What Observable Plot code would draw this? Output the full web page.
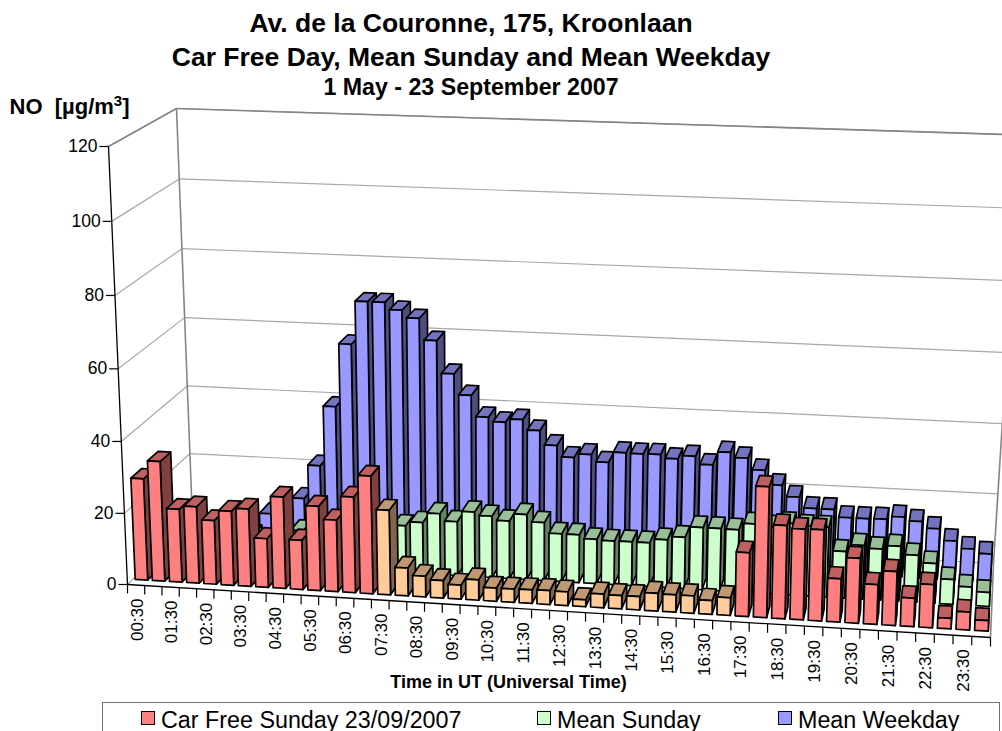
<!DOCTYPE html>
<html>
<head>
<meta charset="utf-8">
<script src="https://cdn.jsdelivr.net/npm/d3@7"></script>
<script src="https://cdn.jsdelivr.net/npm/@observablehq/plot@0.6"></script>
<style>
html,body{margin:0;padding:0;background:#fff;overflow:hidden;width:1002px;height:731px;font-family:"Liberation Sans",Arial,sans-serif;color:#000}
#title{width:942px;height:90px;text-align:center;font-weight:bold;position:relative;z-index:2;pointer-events:none}
#title div{position:absolute;left:0;width:942px;white-space:nowrap}
#chart{height:612px;position:relative;z-index:1}
#chart svg{display:block;background:transparent}
#legend{position:absolute;left:102px;top:702px;width:896px;height:40px;border:1px solid #707070;box-sizing:content-box;z-index:3;background:#fff}
#legend .item{position:absolute;top:4px;height:26px;line-height:26px;font-size:23.3px;white-space:nowrap}
#legend .sw{position:absolute;width:12px;height:12px;border:1.5px solid #000}
</style>
</head>
<body>
<div id="title">
<div style="top:6px;font-size:26.5px;line-height:34px">Av. de la Couronne, 175, Kroonlaan</div>
<div style="top:40px;font-size:26.5px;line-height:34px">Car Free Day, Mean Sunday and Mean Weekday</div>
<div style="top:73px;font-size:23.2px;line-height:28px">1 May - 23 September 2007</div>
</div>
<div id="chart"></div>
<div id="legend"></div>
<script>
// ---- data (µg/m³, half-hourly) ----
const tickLabels = ["00:30","01:30","02:30","03:30","04:30","05:30","06:30","07:30","08:30","09:30","10:30","11:30","12:30","13:30","14:30","15:30","16:30","17:30","18:30","19:30","20:30","21:30","22:30","23:30"];
const carFreeSunday = [28.5,33.6,20.5,21.5,17.9,20.8,21.7,13.7,25.6,13.8,23.6,20,26.7,32.8,23.6,7.8,5.8,4.9,3.9,5.7,3.7,3.7,3.8,3.9,3.8,1.9,3.8,3.7,3.7,4.9,4.8,4.8,3.8,4.9,17.6,35.9,25.6,24.9,25,11.9,17.8,10.9,14.8,7.8,11.8,2.9,4.9,2.9];
const meanSunday = [12,11,10,9,8,8,7,8,10.2,10.2,10.2,11.2,12.3,13.3,13.3,14.5,17.3,15.3,18.3,17.4,16.3,18.4,16.4,13.5,13.5,12.5,12.3,12.4,12.4,13.5,14.5,17.5,17.5,17.4,19.3,18.8,20,19.5,19.5,13,15,14.3,15.3,13.1,11.1,6.9,5.1,3.9];
const meanWeekday = [4.5,4,3.5,4,5,8.2,8.2,13.2,23,40.3,58.4,70.7,70.7,68.7,66.6,60.5,51.3,45.4,39.4,38.2,39.2,36.3,32.3,29.1,30.2,28.2,31.2,31.1,31.2,30.2,31.2,29,32.8,31.4,28.2,24.2,21.1,18.1,18.1,16,16,16.1,17,16,14.2,11,9,7.9];
const carFreeStart = 14, carFreeEnd = 33;            // 07:30 .. 17:00, drawn orange
const yTicks = [0,20,40,60,80,100,120];
const seriesNames = ["Car Free Sunday 23/09/2007","Mean Sunday","Mean Weekday"];

// ---- palette: front, top, side ----
const red    = ["#FF8080","#BF6060","#804040"];
const orange = ["#FFCC99","#BF9973","#80664D"];
const green  = ["#CCFFCC","#99BF99","#668066"];
const blue   = ["#9999FF","#7373BF","#4D4D80"];

// ---- view: where the corners of the 3-D box fall on the page plane ----
const view = {
  floor: {fl:[127,584], fr:[990,637], bl:[192,520], br:[993,563]},
  top:   {fl:[108,146], fr:[1008,184], bl:[176,108], br:[1020,134.5]}
};
const warp = (t,s) => t*s/(1+(s-1)*t);
const mix = (a,b,t) => [a[0]+(b[0]-a[0])*t, a[1]+(b[1]-a[1])*t];
function project(slot, depth, value){
  const t = warp(slot/48, 0.957), h = warp(value/120, 0.97);
  const lo = mix(mix(view.floor.fl,view.floor.fr,t), mix(view.floor.bl,view.floor.br,t), depth);
  const hi = mix(mix(view.top.fl,view.top.fr,t), mix(view.top.bl,view.top.br,t), depth);
  return mix(lo,hi,h);
}

// ---- bars become three polygons each, back row first, left to right ----
const gapX = 0.135, depthStart = [0.083,0.417,0.75], depthSize = 0.167;
const series = [
  {values:meanWeekday, row:2, colour:()=>blue},
  {values:meanSunday, row:1, colour:()=>green},
  {values:carFreeSunday, row:0, colour:i=>(i>=carFreeStart&&i<=carFreeEnd)?orange:red}
];
const faces = [];
let faceId = 0;
function addFace(pts, fill){ faceId++; for(const p of pts) faces.push({id:faceId, fill, px:p[0], py:p[1]}); }
for(const s of series){
  s.values.forEach((v,i)=>{
    const x0=i+gapX, x1=i+1-gapX, d0=depthStart[s.row], d1=d0+depthSize, c=s.colour(i);
    addFace([project(x1,d0,0),project(x1,d1,0),project(x1,d1,v),project(x1,d0,v)], c[2]);
    addFace([project(x0,d0,v),project(x1,d0,v),project(x1,d1,v),project(x0,d1,v)], c[1]);
    addFace([project(x0,d0,0),project(x1,d0,0),project(x1,d0,v),project(x0,d0,v)], c[0]);
  });
}

// ---- walls ----
const seg = (a,b)=>({x1:a[0],y1:a[1],x2:b[0],y2:b[1]});
const gridBack = yTicks.map(v=>seg(project(0,1,v),project(48,1,v)));
const gridLeft = yTicks.map(v=>seg(project(0,0,v),project(0,1,v)));
const wallEdges = [
  seg(project(0,1,0),project(0,1,120)), seg(project(48,1,0),project(48,1,120)),
  seg(project(0,0,120),project(0,1,120)), seg(project(0,1,120),project(48,1,120)),
  seg(project(48,1,0),project(48,0,0))
];
const axisLines = [seg(project(0,0,0),project(0,0,120)), seg(project(0,0,0),project(48,0,0))];
const yTickMarks = yTicks.map(v=>{const p=project(0,0,v);return {...seg(p,[p[0]-9,p[1]]), label:String(v)}});
const xTickMarks = d3.range(49).map(i=>{const p=project(i,0,0);return seg(p,[p[0],p[1]+9])});
const xLabels = tickLabels.map((label,k)=>{const p=project(2*k+0.5,0,0);return {label,x:p[0]+1,y:p[1]+13.5}});

const font = '"Liberation Sans",Arial,sans-serif';
const plot = Plot.plot({
  width:1002, height:612, marginTop:0, marginRight:0, marginBottom:0, marginLeft:0,
  x:{type:"linear",domain:[0,1002],range:[0,1002],axis:null},
  y:{type:"linear",domain:[702,90],range:[612,0],axis:null},
  color:{type:"identity"},
  style:{background:"transparent",fontFamily:font,overflow:"visible"},
  marks:[
    Plot.link(gridBack,{x1:"x1",y1:"y1",x2:"x2",y2:"y2",stroke:"#a8a8a8",strokeWidth:1.2}),
    Plot.link(gridLeft,{x1:"x1",y1:"y1",x2:"x2",y2:"y2",stroke:"#a8a8a8",strokeWidth:1.2}),
    Plot.link(wallEdges,{x1:"x1",y1:"y1",x2:"x2",y2:"y2",stroke:"#858585",strokeWidth:1.6}),
    Plot.line(faces,{x:"px",y:"py",z:"id",fill:"fill",stroke:"#000",strokeWidth:1.7,curve:"linear-closed",strokeLinejoin:"round"}),
    Plot.link(axisLines,{x1:"x1",y1:"y1",x2:"x2",y2:"y2",stroke:"#000",strokeWidth:1.3}),
    Plot.link(yTickMarks,{x1:"x1",y1:"y1",x2:"x2",y2:"y2",stroke:"#000",strokeWidth:1.2}),
    Plot.link(xTickMarks,{x1:"x1",y1:"y1",x2:"x2",y2:"y2",stroke:"#000",strokeWidth:1.2}),
    Plot.text(yTickMarks,{x:"x2",y:"y2",text:"label",textAnchor:"end",dx:-2,fontSize:17.5,fill:"#000"}),
    Plot.text(xLabels,{x:"x",y:"y",text:"label",rotate:-90,textAnchor:"end",fontSize:17,fill:"#000"}),
    Plot.text(["Time in UT (Universal Time)"],{x:()=>508,y:()=>682,text:d=>d,fontSize:18,fontWeight:"bold",fill:"#000"}),
    Plot.text(["NO\u00a0\u00a0[µg/m"],{x:()=>9,y:()=>106,text:d=>d,textAnchor:"start",fontSize:22,fontWeight:"bold",fill:"#000"})
  ]
});
document.getElementById("chart").append(plot);

// raise the exponent of the unit, as in the reference
const unit = [...plot.querySelectorAll("text")].find(t=>t.textContent.startsWith("NO"));
const inner = unit.querySelector("tspan") || unit;
const sup = document.createElementNS("http://www.w3.org/2000/svg","tspan");
sup.setAttribute("dy","-8"); sup.setAttribute("font-size","15"); sup.textContent="3";
const close = document.createElementNS("http://www.w3.org/2000/svg","tspan");
close.setAttribute("dy","8"); close.textContent="]";
inner.append(sup, close);

// ---- legend ----
const legend = document.getElementById("legend");
[[38,58,red[0]],[434,454,green[0]],[675,695,blue[0]]].forEach(([sx,tx,col],i)=>{
  const sw=document.createElement("span"); sw.className="sw"; sw.style.left=sx+"px"; sw.style.background=col; sw.style.top="8px"; legend.append(sw);
  const t=document.createElement("span"); t.className="item"; t.style.left=tx+"px"; t.textContent=seriesNames[i]; legend.append(t);
});
</script>
</body>
</html>
